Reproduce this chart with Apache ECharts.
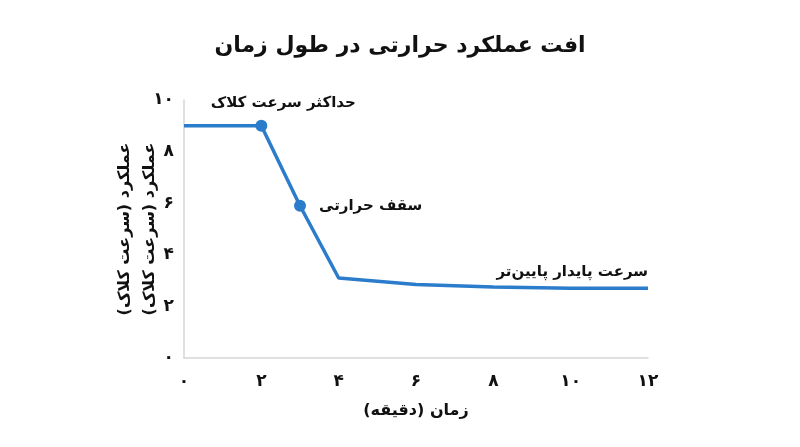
<!DOCTYPE html>
<html>
<head>
<meta charset="utf-8">
<script src="https://cdn.jsdelivr.net/npm/echarts@6/dist/echarts.min.js"></script>
<style>
    html, body { margin: 0; padding: 0; background: #fff; }
    #container { width: 800px; height: 447px; }
</style>
</head>
<body>
<div id="container"></div>
<script>
var dom = document.getElementById('container');
var myChart = echarts.init(dom, null, { renderer: 'canvas' });

// داده‌ها
var timeMin = [0, 2, 3, 4, 6, 8, 10, 12];
var perf = [9, 9, 5.9, 3.1, 2.85, 2.75, 2.7, 2.7];
// نقاطی که نشانگر دارند و برچسب‌ها
var markedIdx = [1, 2];
var labelTexts = { 1: 'حداکثر سرعت کلاک', 2: 'سقف حرارتی', 7: 'سرعت پایدار پایین‌تر' };

var font = '"DejaVu Sans", "Noto Sans", sans-serif';
var blue = '#2b7cca';

function faDigits(v) {
    return String(v).replace(/[0-9]/g, function (d) { return '۰۱۲۳۴۵۶۷۸۹'[d]; });
}

var labelPos = {
    1: { position: 'top', offset: [22, -4] },
    2: { position: 'right', offset: [8, 0] },
    7: { position: 'top', align: 'right', offset: [0, -4] }
};

var seriesData = timeMin.map(function (t, i) {
    var item = { value: [t, perf[i]], symbol: 'circle' };
    if (markedIdx.indexOf(i) >= 0) {
        item.symbolSize = 12;
    } else {
        // بدون نشانگر ولی برچسب باید دیده شود
        item.symbolSize = 0.01;
    }
    if (labelTexts[i]) {
        var lp = labelPos[i];
        item.label = {
            show: true,
            formatter: labelTexts[i],
            position: lp.position,
            offset: lp.offset,
            align: lp.align,
            color: '#111',
            fontSize: 15,
            fontWeight: 'bold',
            fontFamily: font
        };
    }
    return item;
});

var option = {
    backgroundColor: '#fff',
    animation: false,
    title: {
        text: 'افت عملکرد حرارتی در طول زمان',
        left: 'center',
        top: 30,
        textStyle: { fontSize: 22, fontWeight: 'bold', color: '#111', fontFamily: font }
    },
    grid: { left: 184, right: 152, top: 100, bottom: 89 },
    xAxis: {
        type: 'value',
        min: 0, max: 12, interval: 2,
        name: 'زمان (دقیقه)',
        nameLocation: 'middle',
        nameGap: 45,
        nameTextStyle: { fontSize: 16, fontWeight: 'bold', color: '#111', fontFamily: font },
        axisLine: { show: true, lineStyle: { color: '#d6d6d6', width: 1.5 } },
        axisTick: { show: false },
        splitLine: { show: false },
        axisLabel: {
            margin: 15,
            fontSize: 17, fontWeight: 'bold', color: '#111', fontFamily: font,
            formatter: faDigits
        }
    },
    yAxis: {
        type: 'value',
        min: 0, max: 10, interval: 2,
        name: 'عملکرد (سرعت کلاک)\nعملکرد (سرعت کلاک)',
        nameLocation: 'middle',
        nameGap: 22,
        nameMoveOverlap: false,
        nameRotate: 90,
        nameTextStyle: { fontSize: 16, fontWeight: 'bold', color: '#111', fontFamily: font, lineHeight: 25 },
        axisLine: { show: true, lineStyle: { color: '#d6d6d6', width: 1.5 } },
        axisTick: { show: false },
        splitLine: { show: false },
        axisLabel: {
            margin: 10,
            fontSize: 17, fontWeight: 'bold', color: '#111', fontFamily: font,
            formatter: faDigits
        }
    },
    series: [{
        type: 'line',
        data: seriesData,
        lineStyle: { color: blue, width: 3.5 },
        itemStyle: { color: blue },
        showAllSymbol: true
    }]
};

myChart.setOption(option);
</script>
</body>
</html>
